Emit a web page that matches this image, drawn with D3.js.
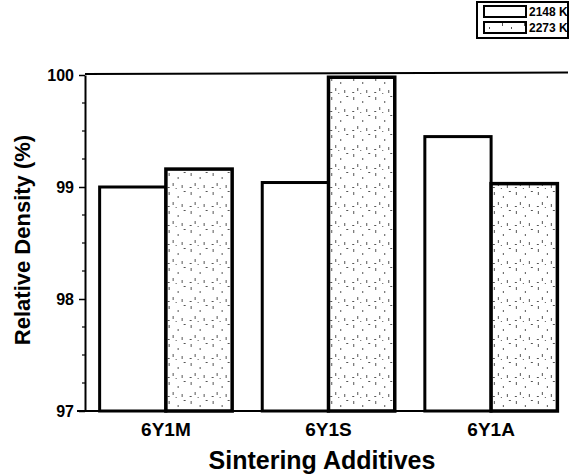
<!DOCTYPE html>
<html>
<head>
<meta charset="utf-8">
<script src="https://cdn.jsdelivr.net/npm/d3@7"></script>
<style>
  body { margin: 0; background: #fff; }
  svg text { font-family: "Liberation Sans", Arial, sans-serif; font-weight: bold; fill: #000; }
</style>
</head>
<body>
<svg id="chart"></svg>
<script>
// Data
var additives = ["6Y1M", "6Y1S", "6Y1A"];
var temps = ["2148 K", "2273 K"];
var density2148 = [99.00, 99.04, 99.45];
var density2273 = [99.16, 99.98, 99.03];
var yTicks = [97, 98, 99, 100];

var width = 571, height = 476;
var margin = {top: 75, right: 14, bottom: 65, left: 85};

var svg = d3.select("#chart")
    .attr("width", width)
    .attr("height", height);

// dotted fill for the 2273 K bars
var defs = svg.append("defs");
var pat = defs.append("pattern")
    .attr("id", "speckle")
    .attr("patternUnits", "userSpaceOnUse")
    .attr("width", 22).attr("height", 19);
pat.append("rect").attr("width", 22).attr("height", 19).attr("fill", "#fff");
[[3,2,1,3],[12,6,1,2],[18,1,2,1],[7,12,1,3],[16,14,1,3],[2,16,2,1],[10,17,1,1]].forEach(function(s) {
  pat.append("rect").attr("x", s[0]).attr("y", s[1]).attr("width", s[2]).attr("height", s[3]).attr("fill", "#555");
});

// scales
var x0 = d3.scaleBand().domain(additives)
    .range([margin.left, width - margin.right + 15])
    .paddingInner(0.185).paddingOuter(0.09);
var x1 = d3.scaleBand().domain(temps).range([0, x0.bandwidth()]);
var y = d3.scaleLinear().domain([97, 100]).range([411, 75]);

var rows = additives.map(function(a, i) {
  return {name: a, vals: [density2148[i], density2273[i]]};
});

// bars
var groups = svg.selectAll(".grp").data(rows).enter().append("g")
    .attr("class", "grp")
    .attr("transform", function(d) { return "translate(" + x0(d.name) + ",0)"; });

groups.selectAll("rect").data(function(d) {
    return d.vals.map(function(v, j) { return {t: temps[j], v: v}; });
  }).enter().append("rect")
    .attr("x", function(d) { return x1(d.t); })
    .attr("y", function(d) { return y(d.v); })
    .attr("width", x1.bandwidth())
    .attr("height", function(d) { return y(97) - y(d.v); })
    .attr("fill", function(d) { return d.t === temps[0] ? "#fff" : "url(#speckle)"; })
    .attr("stroke", "#000")
    .attr("stroke-width", function(d) { return d.t === temps[0] ? 3 : 3.5; });

// y axis with minor ticks
var yAxis = d3.axisLeft(y).tickValues(yTicks).tickSize(6).tickSizeOuter(0).tickPadding(5)
    .tickFormat(d3.format("d"));
var yg = svg.append("g").attr("transform", "translate(" + margin.left + ",0)").call(yAxis);
yg.select(".domain").attr("stroke-width", 2);
yg.selectAll(".tick line").attr("stroke-width", 1.5);
yg.selectAll(".tick text").style("font-size", "16px").style("font-weight", "bold");

var minor = d3.range(97.25, 100, 0.25).filter(function(v) { return Math.abs(v - Math.round(v)) > 0.01; });
svg.append("g").selectAll("line").data(minor).enter().append("line")
    .attr("x1", margin.left - 3).attr("x2", margin.left)
    .attr("y1", function(d) { return y(d); }).attr("y2", function(d) { return y(d); })
    .attr("stroke", "#000").attr("stroke-width", 1.2);

// x axis (baseline only)
var xAxis = d3.axisBottom(x0).tickSize(0).tickPadding(12);
var xg = svg.append("g").attr("transform", "translate(0," + y(97) + ")").call(xAxis);
xg.select(".domain").attr("stroke-width", 2)
    .attr("d", "M" + (margin.left - 8) + ",0H" + (x0.range()[1] - 14));
xg.selectAll(".tick text").style("font-size", "19px").style("font-weight", "bold");

// top frame line
svg.append("line")
    .attr("x1", margin.left).attr("x2", 568)
    .attr("y1", y(100) - 1).attr("y2", y(100) - 2.5)
    .attr("stroke", "#000").attr("stroke-width", 2);

// axis titles
svg.append("text")
    .attr("x", 322).attr("y", 469)
    .attr("text-anchor", "middle")
    .style("font-size", "25px")
    .text("Sintering Additives");

svg.append("text")
    .attr("transform", "translate(30,240) rotate(-90)")
    .attr("text-anchor", "middle")
    .style("font-size", "22px")
    .text("Relative Density (%)");

// legend
var lg = svg.append("g").attr("transform", "translate(477,2)");
lg.append("rect").attr("width", 91).attr("height", 36)
    .attr("fill", "#fff").attr("stroke", "#000").attr("stroke-width", 2);
temps.forEach(function(t, i) {
  lg.append("rect")
      .attr("x", 7).attr("y", 4 + i * 16)
      .attr("width", 42).attr("height", 11)
      .attr("fill", i === 0 ? "#fff" : "url(#speckle)")
      .attr("stroke", "#000").attr("stroke-width", 2);
  lg.append("text")
      .attr("x", 52).attr("y", 14 + i * 16)
      .style("font-size", "12px")
      .text(t);
});
</script>
</body>
</html>
